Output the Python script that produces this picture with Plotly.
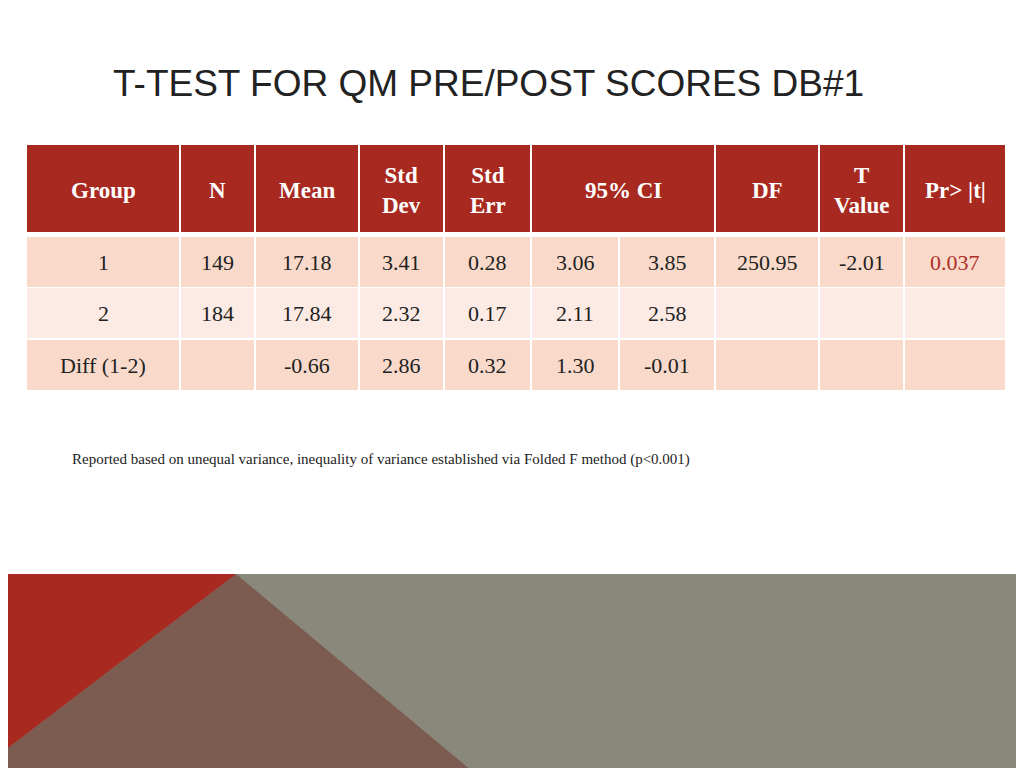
import plotly.graph_objects as go

col_edges = [18, 172, 247, 351, 436, 523, 611, 707, 811, 896, 998]
headers = ["Group", "N", "Mean", "Std<br>Dev", "Std<br>Err", "95% CI", "DF", "T<br>Value", "Pr> |t|"]
header_spans = [1, 1, 1, 1, 1, 2, 1, 1, 1]
group = ["1", "2", "Diff (1-2)"]
n = ["149", "184", ""]
mean = ["17.18", "17.84", "-0.66"]
std_dev = ["3.41", "2.32", "2.86"]
std_err = ["0.28", "0.17", "0.32"]
ci_low = ["3.06", "2.11", "1.30"]
ci_high = ["3.85", "2.58", "-0.01"]
df_vals = ["250.95", "", ""]
t_vals = ["-2.01", "", ""]
p_vals = ["0.037", "", ""]

row_tops = [229, 280, 332]
row_h = 50
row_colors = ["#F9DACA", "#FCEBE4", "#F9DACA"]
HDR = "#A8291F"
serif = "Liberation Serif"

fig = go.Figure()
shapes, ann = [], []
# header
ci = 0
for lab, sp in zip(headers, header_spans):
    x0, x1 = col_edges[ci], col_edges[ci + sp]
    shapes.append(dict(type="rect", x0=x0 + 1, x1=x1 - 1, y0=137, y1=224, fillcolor=HDR, line_width=0, layer="below"))
    ann.append(dict(x=(x0 + x1) / 2, y=182, text=f"<b>{lab}</b>", showarrow=False,
                    font=dict(family=serif, size=23, color="white")))
    ci += sp
cols = [group, n, mean, std_dev, std_err, ci_low, ci_high, df_vals, t_vals, p_vals]
for r, top in enumerate(row_tops):
    for c, col in enumerate(cols):
        x0, x1 = col_edges[c], col_edges[c + 1]
        shapes.append(dict(type="rect", x0=x0 + 1, x1=x1 - 1, y0=top, y1=top + row_h,
                           fillcolor=row_colors[r], line_width=0, layer="below"))
        color = "#B0302A" if c == 9 else "#222222"
        ann.append(dict(x=(x0 + x1) / 2, y=top + row_h / 2, text=col[r], showarrow=False,
                        font=dict(family=serif, size=22, color=color)))

# decorative bottom
shapes.append(dict(type="rect", x0=0, x1=1024, y0=566, y1=768, fillcolor="#8A877B", line_width=0, layer="below"))
shapes.append(dict(type="path", path="M 228 566 L 470 768 L 0 768 L 0 740 Z", fillcolor="#7C5B50", line_width=0, layer="below"))
shapes.append(dict(type="path", path="M 0 566 L 228 566 L 0 740 Z", fillcolor="#A8291F", line_width=0, layer="below"))

ann.append(dict(x=103, y=75, text="T-TEST FOR QM PRE/POST SCORES DB#1", showarrow=False, xanchor="left",
                font=dict(family="Liberation Sans", size=37, color="#222222")))
ann.append(dict(x=62, y=451, text="Reported based on unequal variance, inequality of variance established via Folded F method (p<0.001)",
                showarrow=False, xanchor="left", font=dict(family=serif, size=15, color="#222222")))

fig.update_layout(width=1024, height=768, margin=dict(l=0, r=0, t=0, b=0),
                  paper_bgcolor="white", plot_bgcolor="white", shapes=shapes, annotations=ann,
                  xaxis=dict(range=[0, 1024], visible=False, fixedrange=True),
                  yaxis=dict(range=[768, 0], visible=False, fixedrange=True), showlegend=False)
fig.write_html("out.html", config={"displayModeBar": False})
